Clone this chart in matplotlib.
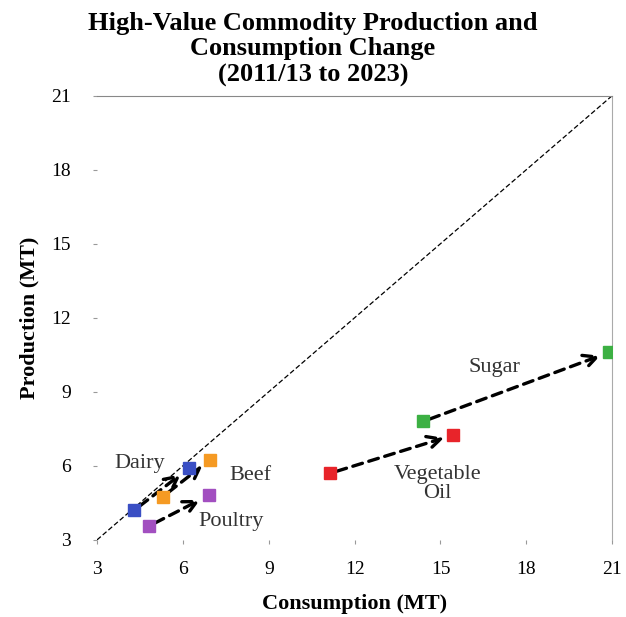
import matplotlib.pyplot as plt

# Commodity data (MT): 2011/13 and 2023
commodities = ['Dairy', 'Beef', 'Poultry', 'Vegetable\nOil', 'Sugar']
cons_start = [4.3, 5.3, 4.8, 11.15, 14.4]
prod_start = [4.2, 4.75, 3.55, 5.7, 7.8]
cons_end = [6.2, 6.95, 6.9, 15.45, 20.9]
prod_end = [5.9, 6.25, 4.8, 7.25, 10.6]
colors = ['#3a4fc4', '#f59a23', '#a24fc0', '#e8242a', '#3cb043']

label_pos = [(4.5, 6.1), (8.35, 5.6), (7.7, 3.75), (14.9, 5.25), (16.9, 10.0)]

ticks = [3, 6, 9, 12, 15, 18, 21]

plt.rcParams['font.family'] = 'Liberation Serif'

fig = plt.figure(figsize=(6.26, 6.17), dpi=100)
ax = fig.add_axes([0.155, 0.125, 0.823, 0.72])

ax.plot([3, 21], [3, 21], color='black', linestyle=(0, (4, 2)), linewidth=0.9)

for i in range(len(commodities)):
    ax.annotate('', xy=(cons_end[i], prod_end[i]), xytext=(cons_start[i], prod_start[i]),
                arrowprops=dict(arrowstyle='->', color='black', lw=2.4, linestyle=(0, (3, 2)),
                                shrinkA=5, shrinkB=7, mutation_scale=24))
    ax.plot([cons_start[i], cons_end[i]], [prod_start[i], prod_end[i]], 's',
            color=colors[i], markersize=9, zorder=5)
    ax.text(label_pos[i][0], label_pos[i][1], commodities[i], fontsize=16,
            ha='center', va='center', color='#333333', linespacing=1.0)

ax.set_xlim(3, 21)
ax.set_ylim(3, 21)
ax.set_xticks(ticks)
ax.set_yticks(ticks)
ax.tick_params(labelsize=14, length=3, color='#999999')
ax.tick_params(axis='y', pad=16)
ax.tick_params(axis='x', pad=12)
ax.spines['left'].set_visible(False)
ax.spines['bottom'].set_visible(False)
ax.spines['top'].set_color('#888888')
ax.spines['right'].set_color('#aaaaaa')

ax.set_xlabel('Consumption (MT)', fontsize=16, fontweight='bold', labelpad=12)
ax.set_ylabel('Production (MT)', fontsize=16, fontweight='bold', labelpad=8)
fig.suptitle('High-Value Commodity Production and\nConsumption Change\n(2011/13 to 2023)',
             fontsize=19, fontweight='bold', y=0.981, linespacing=1.15)

fig.savefig('out.png', dpi=100)
